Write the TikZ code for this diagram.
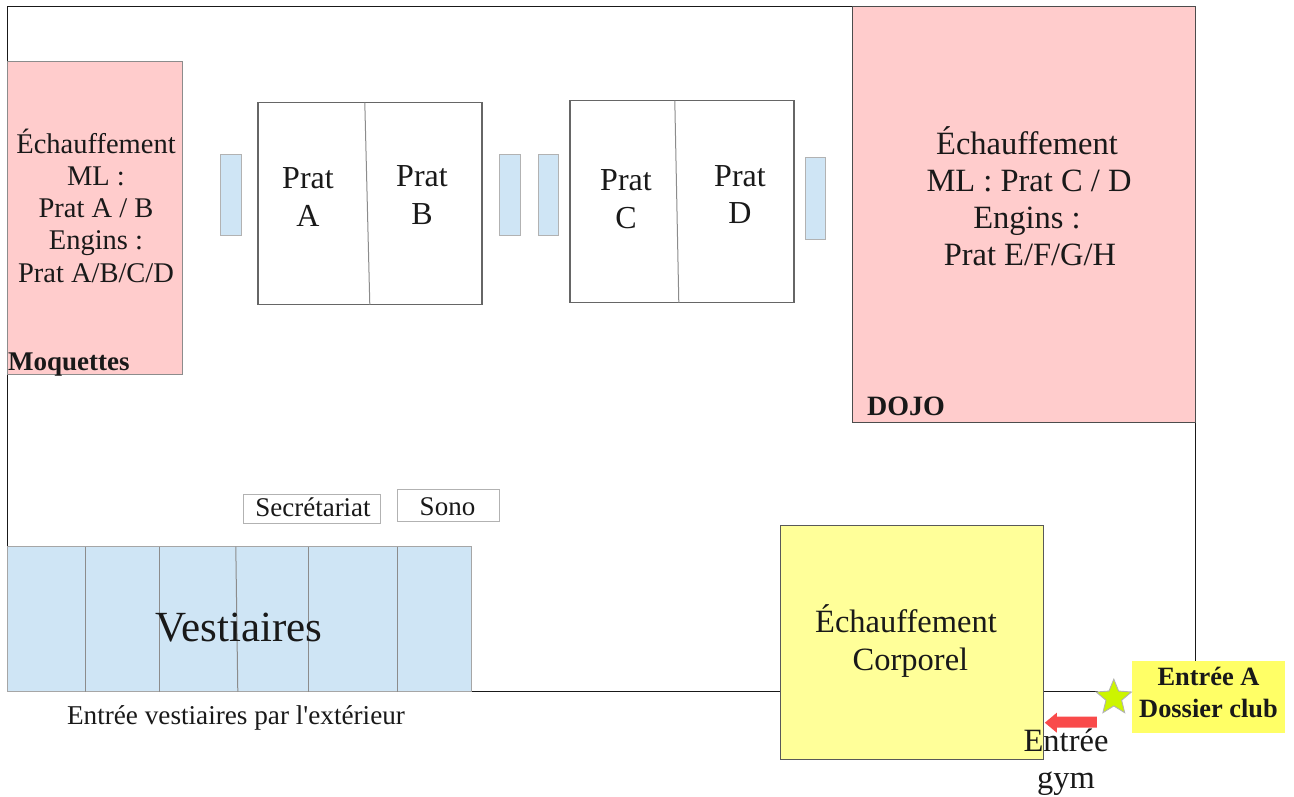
\documentclass[tikz,border=0pt]{standalone}
\usepackage{fontspec}
\setmainfont{Liberation Serif}
\newfontfamily\plainserif{Liberation Serif}
\usetikzlibrary{shapes.geometric}
\definecolor{pinkfill}{HTML}{FFCCCC}
\definecolor{bluefill}{HTML}{CFE5F5}
\definecolor{yellowfill}{HTML}{FFFF99}
\definecolor{labelyellow}{HTML}{FFFF66}
\definecolor{stargreen}{HTML}{CCF500}
\definecolor{arrowred}{HTML}{F94A4A}
\newcommand{\fs}[2]{\fontsize{#1}{#2}\selectfont}
\tikzset{
  wall/.style={draw=black!90,line width=1pt},
  zone/.style={draw=#1,line width=1pt},
  zone/.default={black!60},
  court/.style={draw=black!60,line width=1.5pt,fill=white},
  divider/.style={draw=black!45,line width=1pt},
  lbl/.style={align=center,inner sep=0pt,text=black!90},
}
\begin{document}
\begin{tikzpicture}[x=1pt,y=-1pt]
\useasboundingbox (0,0) rectangle (1294,796);
\fill[white] (0,0) rectangle (1294,796);
\begin{scope}[shift={(-0.2,-0.3)}]
% walls
\coordinate (tl) at (8,7);
\coordinate (tr) at (1196,7);
\coordinate (br) at (1196,661);
\coordinate (bl) at (8,547);
\coordinate (b1) at (472,692);
\coordinate (b2) at (1098,692);
\draw[wall] (bl) -- (tl) -- (tr) -- (br);
\draw[wall] (b1) -- (b2);
% warm-up zones
\path[zone=black!45,fill=pinkfill] (8,62) rectangle (183,375);
\path[zone=black!70,fill=pinkfill] (853,7) rectangle (1196,423);
\path[zone=black!65,fill=yellowfill,line width=1.3pt] (781,526) rectangle (1044,760);
% courts
\path[court] (258,103) rectangle (482,305);
\draw[divider] (365,103) -- (370,305);
\path[court] (570,101) rectangle (794,303);
\draw[divider] (675,101) -- (679,303);
% benches
\path[zone=black!30,fill=bluefill,line width=1.3pt] (221,155) rectangle (242,236);
\path[zone=black!30,fill=bluefill,line width=1.3pt] (500,155) rectangle (521,236);
\path[zone=black!30,fill=bluefill,line width=1.3pt] (539,155) rectangle (559,236);
\path[zone=black!30,fill=bluefill,line width=1.3pt] (806,158) rectangle (826,240);
% desks
\path[zone=black!30,fill=white,line width=1.3pt] (244,495) rectangle (381,524);
\path[zone=black!30,fill=white,line width=1.3pt] (398,490) rectangle (500,522);
% changing rooms
\path[zone=black!35,fill=bluefill] (8,547) rectangle (472,692);
\draw[divider] (86,547) -- (86,692);
\draw[divider] (160,547) -- (160,692);
\draw[divider] (236,547) -- (238,692);
\draw[divider] (309,547) -- (309,692);
\draw[divider] (398,547) -- (398,692);
% entrance markers
\fill[labelyellow] (1132,661) rectangle (1285,733);
\node[star,star points=5,star point ratio=2.25,minimum size=37pt,inner sep=0pt,draw=black!30,line width=0.9pt,fill=stargreen] (star) at (1114,698) {};
\fill[arrowred] (1045,723) -- (1057,713) -- (1057,717) -- (1097,717) -- (1097,728) -- (1057,728) -- (1057,733) -- cycle;
\end{scope}
% labels
\node[lbl,font=\fs{28.5}{32.3}] (moq) at (96,205.5) {Échauffement\\ML :\\Prat A / B\\Engins :\\Prat A/B/C/D};
\node[lbl,anchor=base west,font=\fs{27}{30}\bfseries] (moqt) at (8,370) {Moquettes};
\node[lbl,font=\fs{32}{37.5}] (prata) at (308,197) {Prat\\A};
\node[lbl,font=\fs{32}{37.5}] (pratb) at (422,195) {Prat\\B};
\node[lbl,font=\fs{32}{37.5}] (pratc) at (626,199) {Prat\\C};
\node[lbl,font=\fs{32}{37.5}] (pratd) at (740,194.5) {Prat\\D};
\node[lbl,font=\fs{32.5}{37}] (dojot) at (1027,196) {Échauffement\\\hspace*{4pt}ML : Prat C / D\\Engins :\\\hspace*{6pt}Prat E/F/G/H};
\node[lbl,anchor=base west,font=\fs{28}{30}\bfseries] (dojo) at (867,415) {DOJO};
\node[lbl,font=\fs{27}{30}] (sec) at (313,507) {Secrétariat};
\node[lbl,font=\fs{27}{30}] (sono) at (447.5,507) {Sono};
\node[lbl,font=\fs{43}{46}] (vest) at (239,628) {Vestiaires};
\node[lbl,font=\fs{27.2}{30}\plainserif] (ext) at (236,718) {Entrée vestiaires par l'extérieur};
\node[lbl,font=\fs{32.5}{38}] (corp) at (906,641) {Échauffement\\\hspace*{9pt}Corporel};
\node[lbl,font=\fs{32.5}{37}] (gym) at (1066,762.5) {Entrée\\gym};
\node[lbl,font=\fs{26.4}{32}\bfseries] (ea) at (1208.5,692.5) {Entrée A\\Dossier club};
\end{tikzpicture}
\end{document}
